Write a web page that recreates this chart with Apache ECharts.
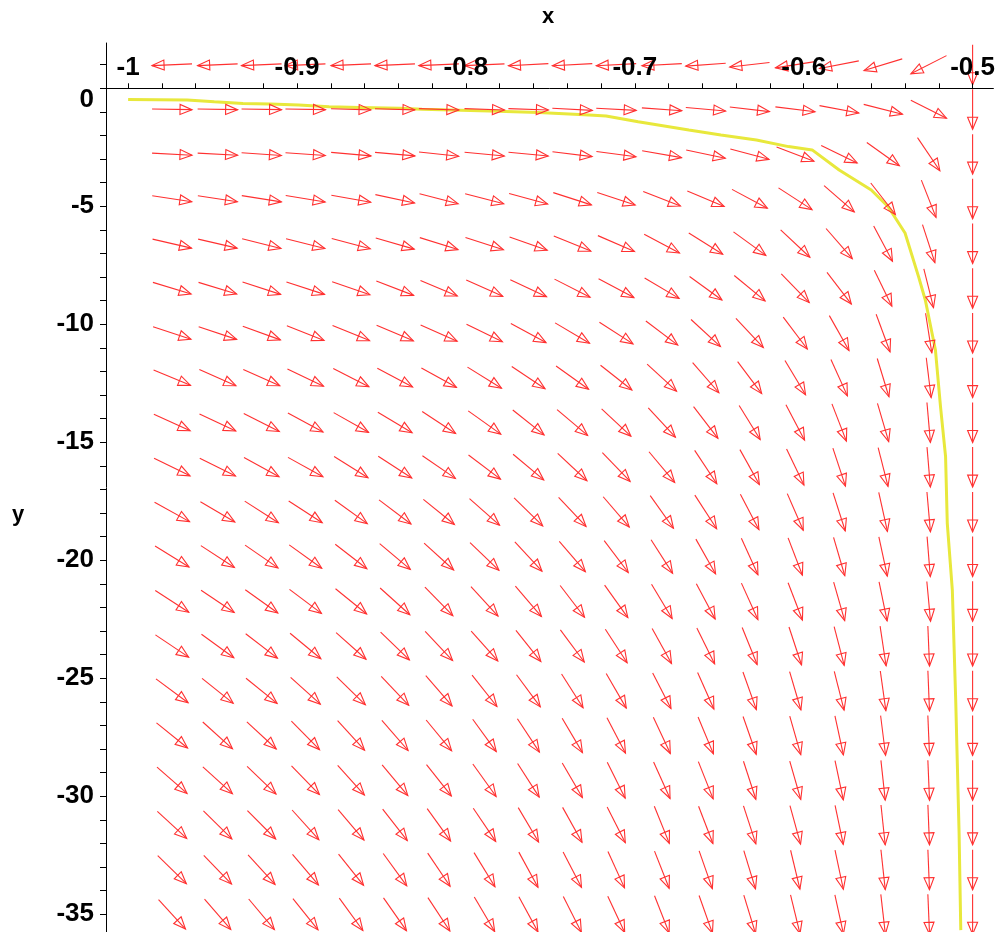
<!DOCTYPE html>
<html>
<head>
<meta charset="utf-8">
<script src="https://cdn.jsdelivr.net/npm/echarts@6.0.0/dist/echarts.min.js"></script>
<style>
html,body{margin:0;padding:0;background:#fff;}
#chart{width:998px;height:932px;}
</style>
</head>
<body>
<div id="chart"></div>
<script>
// grid positions of the direction-field arrows
const xs = [-0.974,-0.947,-0.921,-0.895,-0.868,-0.842,-0.816,-0.789,-0.763,-0.737,-0.711,-0.684,-0.658,-0.632,-0.605,-0.579,-0.553,-0.526,-0.5];
const ys = [1,-0.89,-2.79,-4.68,-6.58,-8.47,-10.37,-12.26,-14.16,-16.05,-17.95,-19.84,-21.74,-23.63,-25.53,-27.42,-29.32,-31.21,-33.11,-35];
// arrow direction on screen, degrees (0 = right, 90 = down, 180 = left), one row per ys value
const angles = [
 [177.5,177.5,177.5,177.5,177.5,177.5,177.5,177.5,177,177,177,177,176,173.5,171,169,163,153,90],
 [1,1,1,1,1.5,1.5,2,2,2,3,3,4,5,6.5,7,10.6,14.3,26.6,90],
 [3,3,4,4,5,5,6,5.5,5.5,7,7.5,10,12,15,20.7,26,35.5,56,90],
 [8.5,8.5,9,9.5,10,12,14.6,14.6,15.2,17.8,18.3,21.4,22.8,28,33,41,52,68.5,90],
 [13,13,14,14,15,16,17.4,18,19.5,22,23.5,28,32,36,43,49,62,72,90],
 [17,17,18,18,19,21,23,24,25,27,28,30.6,36,39.6,45.7,52.5,64,76,90],
 [18.3,18.5,20,21.6,22.2,23,24,26,28.5,30.6,32.8,37,42.6,46.7,53,60.6,69.7,81,90],
 [22.6,23.9,24,25.5,27,28,29,31.8,33.7,35.6,38.3,42.6,49,53,59,65.7,73,83,90],
 [24.6,25,27,28.5,29.5,31,33.3,35.5,38.5,40.3,43,47.3,52.5,58.3,62.2,68.8,73.7,85,90],
 [26,26.5,28.7,29,32,33,34.5,37,40,43,46,50,56.4,60.9,64.3,71.7,75.7,85.2,90],
 [29,30.5,32.6,33,35.8,37,39,41.4,44.3,46.7,49.3,54.5,57,62.4,66.4,72.3,77.5,85,90],
 [31.8,33,34.6,35.7,37.7,40,42.3,43.7,47.3,49.3,53,57.4,60.5,65.5,69,73.7,77.8,85.4,90],
 [33,34,35.5,37,39,42,45.7,47.4,49.3,52.5,54.5,59,62,65.7,69,74,78.4,84.7,90],
 [33.8,36,37.5,39.6,41.6,44,46.7,48.3,51.4,53.3,57,61,63.6,68,71.7,75.4,81.4,87.6,90],
 [36.6,38.7,39,42,44.3,46.5,49,51.6,53.5,57.5,59.9,62.8,66,70.4,73.6,75.8,82,87.7,90],
 [39,42,42.7,45.3,47.6,49,50.4,53.9,56.6,59.5,62.4,64.9,67.4,70.8,74,77.8,82.9,87.6,90],
 [41.3,42.3,43.7,45.7,48,50,51.7,54.4,57.3,59.8,63.4,65.7,68.3,72,74,78,83.8,87.6,90],
 [42.7,44.7,45,48,49.7,52,54.2,55.9,59.4,61,63,68,69,72,74.6,78.2,84,87.7,90],
 [44.3,46,47.6,49.6,51.3,54,56,58.5,61.4,62.6,65.5,68.5,70.7,73,76.5,78,83.8,87.7,90],
 [47.6,49,50,51.2,53.9,55,56.7,59.4,61.5,63.2,65,68.6,70.5,73,76.3,77.7,83.5,87.6,90]
];
// solution curve (yellow)
const curveX = [-1.000,-0.965,-0.949,-0.932,-0.916,-0.899,-0.881,-0.863,-0.839,-0.826,-0.786,-0.757,-0.727,-0.717,-0.698,-0.668,-0.649,-0.628,-0.609,-0.595,-0.579,-0.560,-0.550,-0.540,-0.532,-0.528,-0.522,-0.519,-0.516,-0.515,-0.512,-0.510,-0.509,-0.508,-0.507];
const curveY = [-0.47,-0.50,-0.57,-0.64,-0.67,-0.71,-0.78,-0.81,-0.85,-0.89,-0.96,-1.03,-1.13,-1.17,-1.42,-1.77,-1.98,-2.19,-2.47,-2.61,-3.46,-4.31,-5.02,-6.13,-7.98,-8.97,-11.09,-13.49,-15.61,-18.42,-21.26,-25.92,-28.75,-31.55,-35.67];
// axis ticks
const xTickLabels = [-1,-0.9,-0.8,-0.7,-0.6,-0.5];
const xTickMarks = [-1,-0.98,-0.96,-0.94,-0.92,-0.9,-0.88,-0.86,-0.84,-0.82,-0.8,-0.78,-0.76,-0.74,-0.72,-0.7,-0.68,-0.66,-0.64,-0.62,-0.6,-0.58,-0.56,-0.54,-0.52,-0.5];
const yTickLabels = [0,-5,-10,-15,-20,-25,-30,-35];
const yTickMarks = [1,0,-1,-2,-3,-4,-5,-6,-7,-8,-9,-10,-11,-12,-13,-14,-15,-16,-17,-18,-19,-20,-21,-22,-23,-24,-25,-26,-27,-28,-29,-30,-31,-32,-33,-34,-35];

const arrowData = [];
for (let j = 0; j < ys.length; j++) {
  for (let i = 0; i < xs.length; i++) {
    arrowData.push([xs[i], ys[j], angles[j][i]]);
  }
}
const curveData = curveX.map((x, k) => [x, curveY[k]]);

const FONT = '"Liberation Sans", Arial, Helvetica, sans-serif';
const Y_MIN = -35.75, Y_MAX = 1.92, GRID_TOP = 43, GRID_H = 889;
// place the x axis where y = 0 (offset is negative: moves the top axis down into the grid)
const xAxisOffset = -GRID_H * (Y_MAX - 0) / (Y_MAX - Y_MIN);
const ARROW_COLOR = '#ff3030';

const chart = echarts.init(document.getElementById('chart'), null, {renderer: 'canvas'});

function renderArrow(params, api) {
  const c = api.coord([api.value(0), api.value(1)]);
  const a = api.value(2) * Math.PI / 180;
  const L = 40, H = 12, W = 5;
  const ux = Math.cos(a), uy = Math.sin(a);
  const tip = [c[0] + ux * L / 2, c[1] + uy * L / 2];
  const tail = [c[0] - ux * L / 2, c[1] - uy * L / 2];
  const hb = [tip[0] - ux * H, tip[1] - uy * H];
  const p1 = [hb[0] - uy * W, hb[1] + ux * W];
  const p2 = [hb[0] + uy * W, hb[1] - ux * W];
  return {
    type: 'group',
    children: [
      {type: 'line', shape: {x1: tail[0], y1: tail[1], x2: tip[0], y2: tip[1]}, style: {stroke: ARROW_COLOR, lineWidth: 1.1}},
      {type: 'polygon', shape: {points: [tip, p1, p2]}, style: {stroke: ARROW_COLOR, lineWidth: 1.1, fill: 'none'}}
    ]
  };
}

chart.setOption({
  animation: false,
  backgroundColor: '#fff',
  grid: {left: 106, right: 3, top: GRID_TOP, bottom: 0, containLabel: false},
  graphic: [
    {type: 'text', left: 542, top: 6, style: {text: 'x', font: 'bold 22px ' + FONT, fill: '#000'}},
    {type: 'text', left: 12, top: 504, style: {text: 'y', font: 'bold 22px ' + FONT, fill: '#000'}}
  ],
  xAxis: {
    type: 'value', position: 'top', offset: xAxisOffset, min: -1.0131, max: -0.4877, z: 5,
    axisLine: {onZero: false, lineStyle: {color: '#000', width: 1}},
    axisTick: {show: true, customValues: xTickMarks, length: 5, lineStyle: {color: '#000'}},
    axisLabel: {
      customValues: xTickLabels, margin: 7, color: '#000',
      fontSize: 26, fontWeight: 'bold', fontFamily: FONT,
      formatter: v => String(Math.round(v * 10) / 10)
    },
    splitLine: {show: false}
  },
  yAxis: {
    type: 'value', min: Y_MIN, max: Y_MAX, z: 5,
    axisLine: {onZero: false, lineStyle: {color: '#000', width: 1}},
    axisTick: {show: true, customValues: yTickMarks, length: 6, lineStyle: {color: '#000'}},
    axisLabel: {
      customValues: yTickLabels, margin: 12, color: '#000',
      fontSize: 26, fontWeight: 'bold', fontFamily: FONT,
      formatter: v => (Math.round(v) === 0 ? '{z|0}' : String(Math.round(v))),
      rich: {z: {fontSize: 26, fontWeight: 'bold', fontFamily: FONT, color: '#000', padding: [24, 0, 0, 0]}}
    },
    splitLine: {show: false}
  },
  series: [
    {
      type: 'line', data: curveData, showSymbol: false, silent: true, z: 1,
      lineStyle: {color: '#e8e83c', width: 3}
    },
    {
      type: 'custom', data: arrowData, renderItem: renderArrow, z: 2, clip: false, silent: true
    }
  ]
});
</script>
</body>
</html>
